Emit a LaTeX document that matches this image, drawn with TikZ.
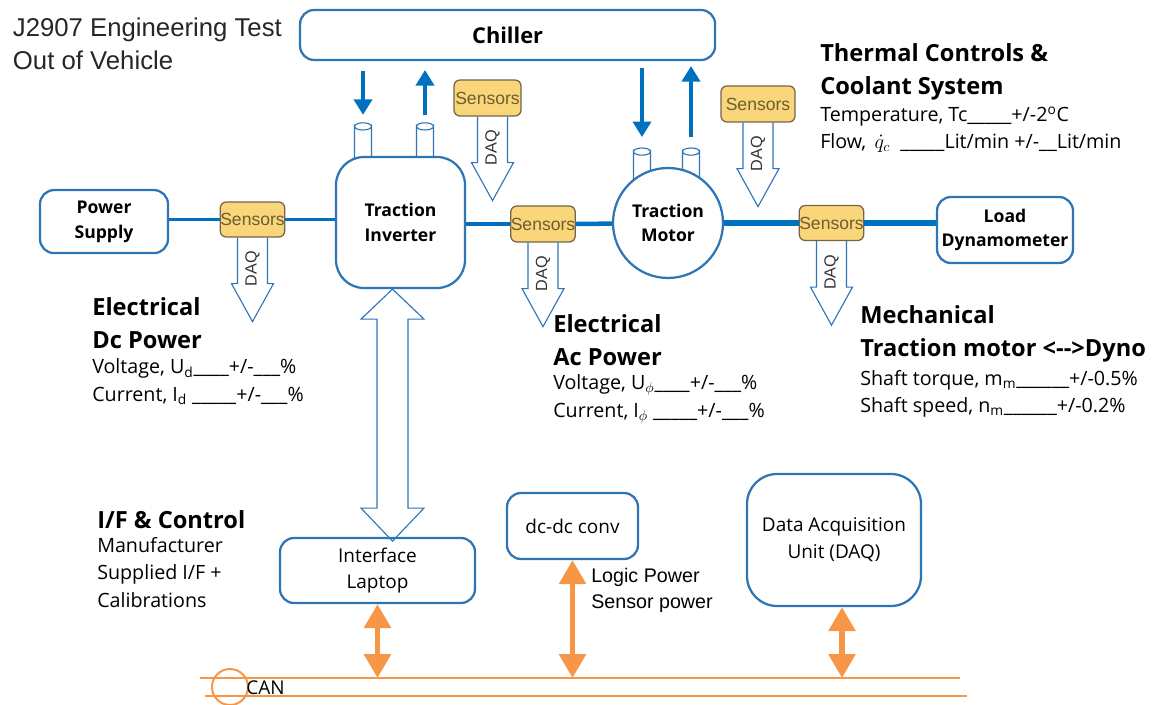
\documentclass[tikz,border=0pt]{standalone}
\usepackage{amsmath}
\usepackage{fontspec}
\setmainfont{Open Sans}
\newfontfamily\arialfont{Liberation Sans}
\usepackage{xcolor}
\usepackage{tikz}
\usetikzlibrary{arrows.meta,positioning,calc}

\definecolor{boxblue}{RGB}{46,117,182}
\definecolor{lineblue}{RGB}{0,112,192}
\definecolor{sensorfill}{RGB}{250,214,122}
\definecolor{sensoredge}{RGB}{115,100,75}
\definecolor{sensortext}{RGB}{110,92,50}
\definecolor{canorange}{RGB}{246,150,70}

\begin{document}
\begin{tikzpicture}[
		box/.style={draw=boxblue, line width=1.6pt, fill=white, rounded corners=0.35cm, align=center, inner sep=0pt, font=\bfseries\fontsize{12.5}{17.5}\selectfont},
		lowbox/.style={box, font=\fontsize{13.5}{19}\selectfont},
		sensorbox/.style={draw=sensoredge, fill=sensorfill, line width=0.9pt, rounded corners=0.15cm, inner sep=0pt, text=sensortext, font=\arialfont\fontsize{12.5}{14}\selectfont},
		pipe/.style={draw=boxblue, line width=0.8pt, fill=white},
		coolin/.style={draw=lineblue, line width=2.2pt, -{Triangle[width=13pt,length=11pt]}},
		coolout/.style={draw=lineblue, line width=2.2pt, {Triangle[width=13pt,length=11pt]}-},
		canarrow/.style={draw=canorange, line width=4pt, {Triangle[width=18.5pt,length=17pt]}-{Triangle[width=18.5pt,length=17pt]}},
		heading/.style={anchor=west, align=left, inner xsep=0pt, font=\bfseries\fontsize{16.8}{23}\selectfont},
		detail/.style={anchor=west, align=left, inner xsep=0pt, font=\fontsize{14}{19.5}\selectfont},
		daq/.pic={
			\draw[boxblue, line width=0.8pt] (-0.375,0) -- (-0.375,-1.15) -- (-0.525,-1.15) -- (0,-2.1) -- (0.525,-1.15) -- (0.375,-1.15) -- (0.375,0);
			\node[rotate=90, font=\arialfont\fontsize{11.5}{12}\selectfont, text=black!80] (-label) at (0,-0.78) {DAQ};
		}
	]
		\useasboundingbox (0,0) rectangle (29,17.6);

		% title
		\node[anchor=west, align=left, font=\arialfont\fontsize{18.3}{23.5}\selectfont, text=black!85] (title) at (0.2,16.51) {J2907 Engineering Test\\Out of Vehicle};

		% chiller and coolant pipes
		\node[box, font=\bfseries\fontsize{15.5}{18}\selectfont, minimum width=10.375cm, minimum height=1.25cm] (chiller) at (12.69,16.725) {Chiller};

		\foreach \px/\py in {9.075/14.44, 10.625/14.44, 16.05/13.81, 17.275/13.81}
			\filldraw[pipe] (\px-0.2125,12.9) -- (\px-0.2125,\py) arc[start angle=180, end angle=360, x radius=0.2125, y radius=0.09] -- (\px+0.2125,12.9) -- cycle
				(\px,\py) ellipse [x radius=0.2125, y radius=0.09];

		\coordinate (invpipein) at (9.075,14.53);
		\coordinate (invpipeout) at (10.625,14.53);
		\coordinate (motpipein) at (16.05,13.9);
		\coordinate (motpipeout) at (17.275,13.9);

		% drive line
		\node[box, rounded corners=0.7cm, minimum width=3.225cm, minimum height=3.275cm] (inv) at (10.0125,12.0375) {Traction\\Inverter};
		\node[circle, draw=boxblue, line width=1.6pt, fill=white, minimum size=2.75cm, inner sep=0pt, align=center, font=\bfseries\fontsize{12.5}{17.5}\selectfont] (motor) at (16.7,12.025) {Traction\\Motor};
		\node[box, minimum width=3.2cm, minimum height=1.575cm] (ps) at (2.6,12.06) {Power\\Supply};
		\node[box, minimum width=3.4cm, minimum height=1.65cm] (load) at (25.125,11.85) {Load\\Dynamometer};

		\node[sensorbox, minimum width=1.575cm, minimum height=0.875cm] (dcsens) at (6.3125,12.1125) {Sensors};
		\node[sensorbox, minimum width=1.55cm, minimum height=0.9cm] (acsens) at (13.575,12.0) {Sensors};
		\node[sensorbox, minimum width=1.525cm, minimum height=0.875cm] (mechsens) at (20.7875,12.025) {Sensors};
		\node[sensorbox, minimum width=1.675cm, minimum height=0.9cm] (coolsensA) at (12.1875,15.15) {Sensors};
		\node[sensorbox, minimum width=1.85cm, minimum height=0.9cm] (coolsensB) at (18.95,15.0) {Sensors};

		\draw[lineblue, line width=2.5pt] (ps.east |- dcsens) -- (dcsens.west);
		\draw[lineblue, line width=2.5pt] (dcsens.east) -- (dcsens.east -| inv.west);
		\draw[lineblue, line width=3.2pt] (acsens.west -| inv.east) -- (acsens.west);
		\draw[lineblue, line width=3.2pt] (acsens.east) -- (motor);
		\draw[lineblue, line width=4.8pt] (motor.east) -- (mechsens.west);
		\draw[lineblue, line width=4.8pt] (mechsens.east) -- (mechsens.east -| load.west);

		\draw[coolin, shorten <=0.25cm, shorten >=0.2cm] (chiller.south -| invpipein) -- (invpipein);
		\draw[coolout, shorten <=0.225cm, shorten >=0.2cm] (chiller.south -| invpipeout) -- (invpipeout);
		\draw[coolin, shorten <=0.175cm, shorten >=0.275cm] (chiller.south -| motpipein) -- (motpipein);
		\draw[coolout, shorten <=0.125cm, shorten >=0.275cm] (chiller.south -| motpipeout) -- (motpipeout);

		\pic (daqdc) at (dcsens.south) {daq};
		\pic (daqac) at (acsens.south) {daq};
		\pic (daqmech) at (mechsens.south) {daq};
		\pic (daqcoolA) at ([xshift=0.125cm]coolsensA.south) {daq};
		\pic (daqcoolB) at (coolsensB.south) {daq};

		% measurement notes
		\node[heading] (thermhead) at (20.5,15.8) {Thermal Controls \&\\Coolant System};
		\node[detail] (thermdetail) at (20.5,14.36) {Temperature, Tc\_\_\_\_\_+/-2\textsuperscript{o}C\\Flow, \,$\dot{q}_c$\ \ \_\_\_\_\_Lit/min +/-\_\_Lit/min};
		\node[heading] (dchead) at (2.3,9.525) {Electrical\\Dc Power};
		\node[detail] (dcdetail) at (2.3,8.05) {Voltage, U\textsubscript{d}\_\_\_\_+/-\_\_\_\%\\Current, I\textsubscript{d} \_\_\_\_\_+/-\_\_\_\%};
		\node[heading] (achead) at (13.825,9.1) {Electrical\\Ac Power};
		\node[detail] (acdetail) at (13.825,7.625) {Voltage, U\textsubscript{$\phi$}\_\_\_\_+/-\_\_\_\%\\Current, I\textsubscript{$\phi$} \_\_\_\_\_+/-\_\_\_\%};
		\node[heading] (mechhead) at (21.5,9.25) {Mechanical\\Traction motor <-{}->Dyno};
		\node[detail] (mechdetail) at (21.5,7.75) {Shaft torque, m\textsubscript{m}\_\_\_\_\_\_+/-0.5\%\\Shaft speed, n\textsubscript{m}\_\_\_\_\_\_+/-0.2\%};

		% interface and CAN
		\node[lowbox, minimum width=4.875cm, minimum height=1.625cm] (laptop) at (9.4375,3.3375) {Interface\\Laptop};
		\node[lowbox, minimum width=3.275cm, minimum height=1.65cm] (dcdc) at (14.3125,4.45) {dc-dc conv};
		\node[lowbox, rounded corners=0.75cm, minimum width=4.35cm, minimum height=3.3cm] (daqunit) at (20.85,4.1) {Data Acquisition\\Unit (DAQ)};

		\draw[boxblue, line width=0.8pt] ([xshift=-0.2cm]inv.south) -- ++(-0.7875,-0.75) -- ++(0.4,0) -- ++(0,-4.725) -- ++(-0.4,0) -- ++(0.7875,-0.825) -- ++(0.7875,0.825) -- ++(-0.4,0) -- ++(0,4.725) -- ++(0.4,0) -- cycle;

		\node[heading] (ifhead) at (2.425,4.6) {I/F \& Control};
		\node[detail] (ifdetail) at (2.425,3.2875) {Manufacturer\\Supplied I/F +\\Calibrations};
		\node[anchor=west, align=left, inner xsep=0pt, font=\arialfont\fontsize{14}{18.5}\selectfont] (powernote) at (14.775,2.85) {Logic Power\\Sensor power};

		\coordinate (canhi) at (5.0,0.65);
		\coordinate (canlo) at (5.125,0.2);
		\draw[canorange, line width=1.4pt] (canhi) -- (24.0,0.65);
		\draw[canorange, line width=1.4pt] (canlo) -- (24.175,0.2);
		\draw[canorange, line width=1.4pt] (5.75,0.425) circle (0.45);
		\node[anchor=west, inner xsep=0pt, font=\fontsize{13.5}{15}\selectfont] (canlabel) at (6.15,0.4) {CAN};

		\draw[canarrow] (laptop.south) -- (laptop.south |- canhi);
		\draw[canarrow] (dcdc.south) -- (dcdc.south |- canhi);
		\draw[canarrow] ($(daqunit.south)+(0.2,0)$) -- ($(daqunit.south |- canhi)+(0.2,0)$);
	\end{tikzpicture}
\end{document}
